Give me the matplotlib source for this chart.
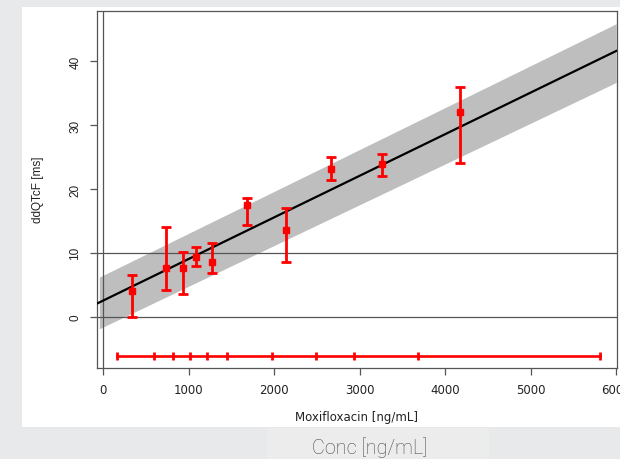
import matplotlib
matplotlib.use("Agg")
import matplotlib.pyplot as plt
from matplotlib.patches import Rectangle
import numpy as np

# Data
conc = [334, 736, 930, 1087, 1272, 1687, 2135, 2671, 3257, 4172]
ddqtcf = [4.0, 7.6, 7.7, 9.4, 8.5, 17.55, 13.6, 23.1, 23.9, 32.0]
ci_low = [0.0, 4.2, 3.6, 7.9, 6.8, 14.3, 8.5, 21.4, 22.0, 24.1]
ci_high = [6.5, 14.0, 10.1, 10.9, 11.6, 18.6, 17.1, 25.1, 25.5, 36.0]

bin_edges = [157, 600, 822, 1015, 1221, 1446, 1978, 2486, 2929, 3686, 5806]
bin_y = -6.1

fit_x = [-80, 6010]
fit_y = [2.0, 41.7]
band_x = [-44, 6000]
band_low = [-1.9, 36.7]
band_high = [6.2, 45.9]

xticks = [0, 1000, 2000, 3000, 4000, 5000, 6000]
yticks = [0, 10, 20, 30, 40]
ref_lines = [0, 10]

W, H = 620, 460
fig = plt.figure(figsize=(W / 100, H / 100), dpi=100)
fig.patch.set_facecolor("#e8e9ea")
fig.patches.append(Rectangle((22 / W, (H - 427.5) / H), 1 - 22 / W, (427.5 - 8) / H,
                             transform=fig.transFigure, facecolor="white",
                             edgecolor="none", zorder=-5))
fig.patches.append(Rectangle((267 / W, 0), (489 - 267) / W, (H - 429) / H,
                             transform=fig.transFigure, facecolor="#ececec",
                             edgecolor="none", zorder=-5))

ax = fig.add_axes([96.5 / W, (H - 369) / H, (617 - 96.5) / W, (369 - 12) / H])
ax.set_zorder(2)
ax.set_facecolor("white")
ax.set_xlim(-77, 6010)
ax.set_ylim(-8.04, 47.9)

ax.fill_between(band_x, band_low, band_high, color="#bebebe", linewidth=0, zorder=1)
for r in ref_lines:
    ax.axhline(r, color="#555555", lw=0.9, zorder=2)
ax.axvline(0, color="#555555", lw=0.9, zorder=2)
ax.plot(fit_x, fit_y, color="black", lw=1.6, zorder=3)

c = np.array(conc)
m = np.array(ddqtcf)
err = [m - np.array(ci_low), np.array(ci_high) - m]
ax.errorbar(c, m, yerr=err, fmt="s", color="#ff0000", ms=4.6, elinewidth=2.0,
            capsize=3.8, capthick=2.0, zorder=4)

ax.plot([bin_edges[0], bin_edges[-1]], [bin_y, bin_y], color="#ff0000", lw=1.9, zorder=4)
ax.plot(bin_edges, [bin_y] * len(bin_edges), linestyle="none", marker="|",
        color="#ff0000", ms=6, mew=2.0, zorder=4)

for s in ax.spines.values():
    s.set_color("#555555")
    s.set_linewidth(0.9)

hfont = "DejaVu Sans"
vfont = "Liberation Sans"
ax.set_xticks(xticks)
ax.set_yticks(yticks)
ax.set_xticklabels([str(t) for t in xticks], fontfamily=hfont, fontsize=8.5)
ax.set_yticklabels([str(t) for t in yticks], fontfamily=vfont, fontsize=8.5,
                   rotation=90, va="center")
ax.tick_params(axis="both", direction="out", length=5, width=0.9, color="#555555",
               labelcolor="#222222")
ax.tick_params(axis="x", pad=6)
ax.tick_params(axis="y", pad=6)

fig.text((96.5 + 617) / 2 / W, (H - 418) / H, "Moxifloxacin [ng/mL]", fontfamily=hfont,
         fontsize=8.5, ha="center", va="center", color="#222222")
fig.text(38 / W, (H - 190) / H, "ddQTcF [ms]", fontfamily=vfont, fontsize=8.5,
         rotation=90, ha="center", va="center", color="#222222")
fig.text(370 / W, (H - 454.5) / H, "Conc [ng/mL]", fontfamily="Roboto", fontweight="light",
         fontsize=14.3, ha="center", va="baseline", color="#454a50")

fig.savefig("out.png", dpi=100, facecolor=fig.get_facecolor())
